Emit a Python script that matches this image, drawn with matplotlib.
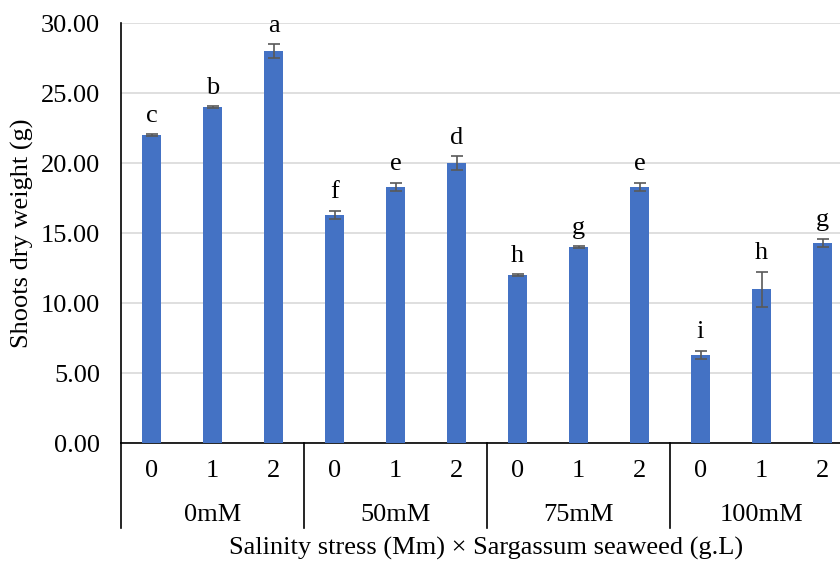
import numpy as np
import matplotlib.pyplot as plt
import matplotlib.transforms as mtransforms

plt.rcParams['font.family'] = ['Liberation Serif', 'DejaVu Serif']

# data
salinity = ["0mM", "50mM", "75mM", "100mM"]
seaweed = ["0", "1", "2"]
weights = [22.0, 24.0, 28.0, 16.3, 18.3, 20.0, 12.0, 14.0, 18.3, 6.3, 11.0, 14.3]
errors = [0.05, 0.05, 0.5, 0.3, 0.3, 0.5, 0.05, 0.05, 0.3, 0.3, 1.25, 0.3]
letters = ["c", "b", "a", "f", "e", "d", "h", "g", "e", "i", "h", "g"]

fs = 19

fig = plt.figure(figsize=(8.4, 5.65), dpi=100)
ax = fig.add_axes([121/840, 1-443/565, 732/840, 420/565])

x = np.arange(len(weights)) + 0.5
ax.bar(x, weights, width=0.32, color="#4472C4", zorder=3)
ax.errorbar(x, weights, yerr=errors, fmt="none", ecolor="#595959",
            elinewidth=1.2, capsize=4, capthick=1.2, zorder=4)

for xi, w, e, lab in zip(x, weights, errors, letters):
    ax.annotate(lab, (xi, w + e), xytext=(0, 9), textcoords="offset points",
                ha="center", va="baseline", fontsize=fs)

ax.set_xlim(0, len(weights))
ax.set_ylim(0, 30)
ax.set_yticks(np.arange(0, 31, 5))
ax.set_yticklabels([f"{v:.2f}" for v in np.arange(0, 31, 5)], fontsize=fs)
ax.tick_params(axis="y", length=0, pad=15)
ax.set_xticks([])
ax.yaxis.grid(True, color="#d9d9d9", lw=1.2, zorder=0)
for s in ["top", "right"]:
    ax.spines[s].set_visible(False)
ax.spines["left"].set_color("black")
ax.spines["left"].set_linewidth(1.2)
ax.spines["bottom"].set_linewidth(1.2)

# two-level category axis
trans = mtransforms.blended_transform_factory(ax.transData, ax.transAxes)
n = len(seaweed)
for i, xi in enumerate(x):
    ax.text(xi, -0.067, seaweed[i % n], transform=trans, ha="center",
            va="center", fontsize=fs)
for g, name in enumerate(salinity):
    ax.text(g*n + n/2, -0.171, name, transform=trans, ha="center",
            va="center", fontsize=fs)
for g in range(len(salinity) + 1):
    ax.plot([g*n, g*n], [0, -0.202], transform=trans, color="black",
            lw=1.2, clip_on=False)

fig.text(22/840, 1-233/565, "Shoots dry weight (g)", rotation=90,
         ha="center", va="center", fontsize=fs)
fig.text(486/840, 1-548/565, "Salinity stress (Mm) × Sargassum seaweed (g.L)",
         ha="center", va="center", fontsize=fs)

fig.savefig("out.png", dpi=100)
